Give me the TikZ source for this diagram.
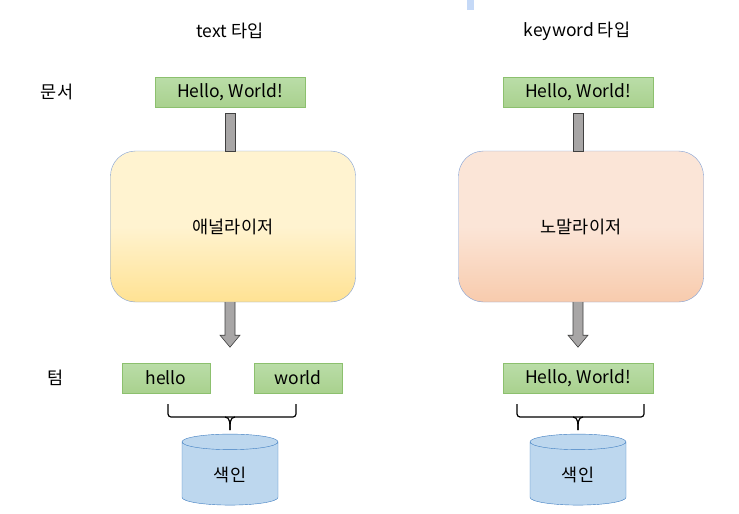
\documentclass[tikz,border=0pt]{standalone}
\usepackage{fontspec}
\setmainfont{Noto Sans CJK KR}
\usetikzlibrary{calc,shapes.geometric}

\definecolor{greenfill}{HTML}{A9D18E}
\definecolor{greentop}{HTML}{BADDA8}
\definecolor{greenline}{HTML}{8CC06E}
\definecolor{yellowtop}{HTML}{FFF3D0}
\definecolor{yellowbot}{HTML}{FFE293}
\definecolor{peachtop}{HTML}{FBE5D7}
\definecolor{peachbot}{HTML}{F8CBAD}
\definecolor{boxline}{HTML}{7F9FD5}
\definecolor{dbfill}{HTML}{BDD7EE}
\definecolor{dbline}{HTML}{3D7CC0}
\definecolor{arrowfill}{HTML}{A8A6A6}
\definecolor{barblue}{HTML}{C5D9F7}

\begin{document}
\begin{tikzpicture}[x=1pt,y=-1pt]
    \tikzset{term/.style= {draw=greenline, rectangle
    , top color=greentop
    , bottom color=greenfill
    , inner sep=0pt
    , minimum height=30pt
    , font=\fontsize{17.5}{19}\selectfont
      }
    , stage/.style= {draw=boxline, rectangle
    , rounded corners=25pt
    , minimum width=245pt
    , minimum height=151pt
    , font=\fontsize{17.5}{19}\selectfont
      }
    , index/.style= {draw=dbline, cylinder
    , shape border rotate=90
    , shape aspect=0.4
    , fill=dbfill
    , minimum width=96pt
    , minimum height=71pt
    , font=\fontsize{17.5}{19}\selectfont
      }
    , label/.style= {font=\fontsize{17.5}{19}\selectfont}
    , fatarrow/.style= {draw=black!75, fill=arrowfill, line width=0.6pt}
    , bracket/.style= {draw=black, line width=1.2pt}
    }

\useasboundingbox (0,0) rectangle (739,514);
\fill[barblue] (467,0) rectangle (474,10);

% titles and row labels
\node [label] (titletext) at (230,31) {text 타입};
\node [label] (titlekw) at (577,31) {keyword 타입};
\node [label] (rowdoc) at (57,92) {문서};
\node [label] (rowterm) at (56,378) {텀};

% text type
\node [term, minimum width=150pt] (doc1) at (230,92) {Hello, World!};
\node [stage, top color=yellowtop, bottom color=yellowbot, middle color=yellowtop] (ana) at (233,226.5) {애널라이저};
\node [term, minimum width=88pt] (hello) at (166,378) {hello};
\node [term, minimum width=88pt] (world) at (298,378) {world};
\node [index] (idx1) at (230,475) {색인};

% keyword type
\node [term, minimum width=150pt] (doc2) at (578,92) {Hello, World!};
\node [stage, top color=peachtop, bottom color=peachbot, middle color=peachtop] (norm) at (581,226.5) {노말라이저};
\node [term, minimum width=150pt] (tok) at (578,378) {Hello, World!};
\node [index] (idx2) at (578,475) {색인};

% stems and arrows
\foreach \src/\dst in {doc1/ana, doc2/norm}{
  \draw[fatarrow] ($(\src.south)+(-5,6)$) rectangle (\dst.north -| {$(\src.south)+(5,0)$});
}
\foreach \src/\dst in {ana/doc1, norm/doc2}{
  \draw[fatarrow] (\src.south -| {$(\dst.south)+(-5,0)$}) -- ++(0,33) -- ++(-5,0)
    -- ++(10,12) -- ++(10,-12) -- ++(-5,0) -- ++(0,-33);
}

% brackets
\foreach \l/\r/\db in {168/296/idx1, 517/644/idx2}{
  \coordinate (tip) at (\db.north |- 0,430);
  \draw[bracket, rounded corners=3pt] (\l,404) -- (\l,417) -- (\r,417) -- (\r,404);
  \draw[bracket] ($(tip |- 0,417)+(-5,0)$) to[out=0,in=90] (tip);
  \draw[bracket] ($(tip |- 0,417)+(5,0)$) to[out=180,in=90] (tip);
}
\end{tikzpicture}
\end{document}
